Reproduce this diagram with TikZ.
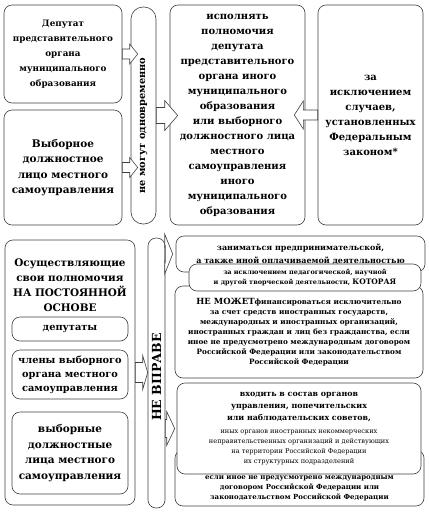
\documentclass[tikz,border=0pt]{standalone}
\usepackage{fontspec}
\setmainfont{DejaVu Serif}
\usepackage{tikz}
\usetikzlibrary{calc}
\usetikzlibrary{positioning}
\newcommand{\fDep}{\bfseries\fontsize{8.8}{15}\selectfont}
\newcommand{\fVyb}{\bfseries\fontsize{10.5}{15.6}\selectfont}
\newcommand{\fIsp}{\bfseries\fontsize{10}{15}\selectfont}
\newcommand{\fZak}{\bfseries\fontsize{10}{15}\selectfont}
\newcommand{\fVert}{\bfseries\fontsize{9.8}{12}\selectfont}
\newcommand{\fOsn}{\bfseries\fontsize{10.4}{15}\selectfont}
\newcommand{\fChl}{\bfseries\fontsize{9.8}{14}\selectfont}
\newcommand{\fNv}{\bfseries\fontsize{12.5}{14}\selectfont}
\newcommand{\fZan}{\bfseries\fontsize{8}{13}\selectfont}
\newcommand{\fPed}{\bfseries\fontsize{6.5}{9.5}\selectfont}
\newcommand{\fMoz}{\bfseries\fontsize{7.3}{10}\selectfont}
\newcommand{\fVh}{\bfseries\fontsize{7.9}{11.7}\selectfont}
\newcommand{\fVhS}{\mdseries\fontsize{6.6}{10}\selectfont}
\newcommand{\fEsli}{\bfseries\fontsize{7}{10}\selectfont}
\newcommand{\blockArrow}[5]{%
		\coordinate (s) at #1;
		\coordinate (t) at #2;
		\coordinate (h) at ($(t)!#5pt!(s)$);
		\filldraw [arrowbox] ($(s)!#3pt!90:(t)$) -- ($(h)!#3pt!-90:(s)$)
								-- ($(h)!#4pt!-90:(s)$)
								-- (t)
								-- ($(h)!#4pt!90:(s)$)
								-- ($(h)!#3pt!90:(s)$)
								-- ($(s)!#3pt!-90:(t)$) -- cycle;
}
\tikzset{
	box/.style={draw=black!75, fill=white, line width=0.6pt, rounded corners=8pt, align=center, inner sep=0pt},
	pill/.style={box, rounded corners=#1},
	arrowbox/.style={draw=black!75, fill=white, line width=0.6pt, line join=miter},
}

\begin{document}
\begin{tikzpicture}[x=1pt, y=-1pt]
	\useasboundingbox (0,0) rectangle (429,515);
	
		% top part
		\node [box, minimum width=118pt, minimum height=98pt, font=\fDep] (dep) at (63,54)
			{Депутат\\представительного\\органа\\муниципального\\образования};
		\node [box, minimum width=118pt, minimum height=115pt, font=\fVyb] (vyb) at (63,167.5)
			{Выборное\\должностное\\лицо местного\\самоуправления};
		\node [pill=12pt, minimum width=25pt, minimum height=217pt] (nmo) at (143.5,115.5) {};
		\node [font=\fVert, rotate=90] (nmoText) at ($(nmo.center)+(0,10)$) {не могут одновременно};
		\node [box, minimum width=135pt, minimum height=220pt, font=\fIsp] (isp) at (237.5,115)
			{исполнять\\полномочия\\депутата\\представительного\\органа иного\\муниципального\\образования\\или выборного\\должностного лица\\местного\\самоуправления\\иного\\муниципального\\образования};
		\node [box, minimum width=105pt, minimum height=220pt, font=\fZak] (zak) at (370.5,115)
			{за\\исключением\\случаев,\\установленных\\Федеральным\\законом*};
		
		\blockArrow{(dep.east)}{($(nmo.west |- dep.east)+(7,0)$)}{5}{10}{8}
		\blockArrow{(vyb.east)}{($(nmo.west |- vyb.east)+(7,0)$)}{5}{10}{8}
		\blockArrow{(nmo.east)}{($(isp.west |- nmo.east)+(8,0)$)}{8}{15}{13}
		\blockArrow{(zak.west)}{($(isp.east |- zak.west)+(-11,0)$)}{5}{14}{9}
		
		% bottom part
		\node [box, minimum width=130pt, minimum height=265pt] (osn) at (70,372.5) {};
		\node [font=\fOsn, align=center] (osnText) at (70,285)
			{Осуществляющие\\свои полномочия\\НА ПОСТОЯННОЙ\\ОСНОВЕ};
		\node [box, minimum width=116pt, minimum height=24pt, font=\fChl] (dpt) at (70,329) {депутаты};
		\node [box, minimum width=116pt, minimum height=49pt, font=\fChl] (chl) at (70,374.5)
			{члены выборного\\органа местного\\самоуправления};
		\node [box, minimum width=116pt, minimum height=82pt, font=\fVyb] (vdl) at (70,453)
			{выборные\\должностные\\лица местного\\самоуправления};
		\node [pill=8pt, minimum width=17pt, minimum height=270pt] (nv) at (156.5,373) {};
		\node [font=\fNv, rotate=90] (nvText) at ($(nv.center)+(0,4)$) {НЕ ВПРАВЕ};
		
		\node [box, minimum width=249pt, minimum height=36pt, font=\fZan] (zan) at (300.5,254)
			{заниматься предпринимательской,\\а также иной оплачиваемой деятельностью};
		\node [box, minimum width=248pt, minimum height=92pt, font=\fMoz] (moz) at (299,332)
			{{\fontsize{8.5}{10}\selectfont НЕ МОЖЕТ}финансироваться исключительно\\за счет средств иностранных государств,\\международных и иностранных организаций,\\иностранных граждан и лиц без гражданства, если\\иное не предусмотрено международным договором\\Российской Федерации или законодательством\\Российской Федерации};
		\node [box, minimum width=232pt, minimum height=27pt, font=\fPed] (ped) at (305,277.5)
			{за исключением педагогической, научной\\и другой творческой деятельности, {\fontsize{7.5}{9.5}\selectfont КОТОРАЯ}};
		\node [box, minimum width=249pt, minimum height=56pt] (esli) at (299.5,478) {};
		\node [font=\fEsli, align=center, above=2pt of esli.south] (esliText)
			{если иное не предусмотрено международным\\договором Российской Федерации или\\законодательством Российской Федерации};
		\node [box, minimum width=244pt, minimum height=91pt, font=\fVh] (vh) at (299,428.5)
			{входить в состав органов\\управления, попечительских\\или наблюдательских советов,\\[1.3pt]{\fVhS иных органов иностранных некоммерческих}\\[-1.7pt]{\fVhS неправительственных организаций и действующих}\\[-1.7pt]{\fVhS на территории Российской Федерации}\\[-1.7pt]{\fVhS их структурных подразделений}};
		
		\blockArrow{(osn.east)}{(nv.west |- osn.east)}{10}{17}{5}
		\blockArrow{(nv.east |- zan.west)}{($(zan.west)+(-3,0)$)}{9}{20}{8}
		\blockArrow{(nv.east |- vh.west)}{($(vh.west)+(-2,0)$)}{9}{17}{8}
	\end{tikzpicture}
\end{document}
